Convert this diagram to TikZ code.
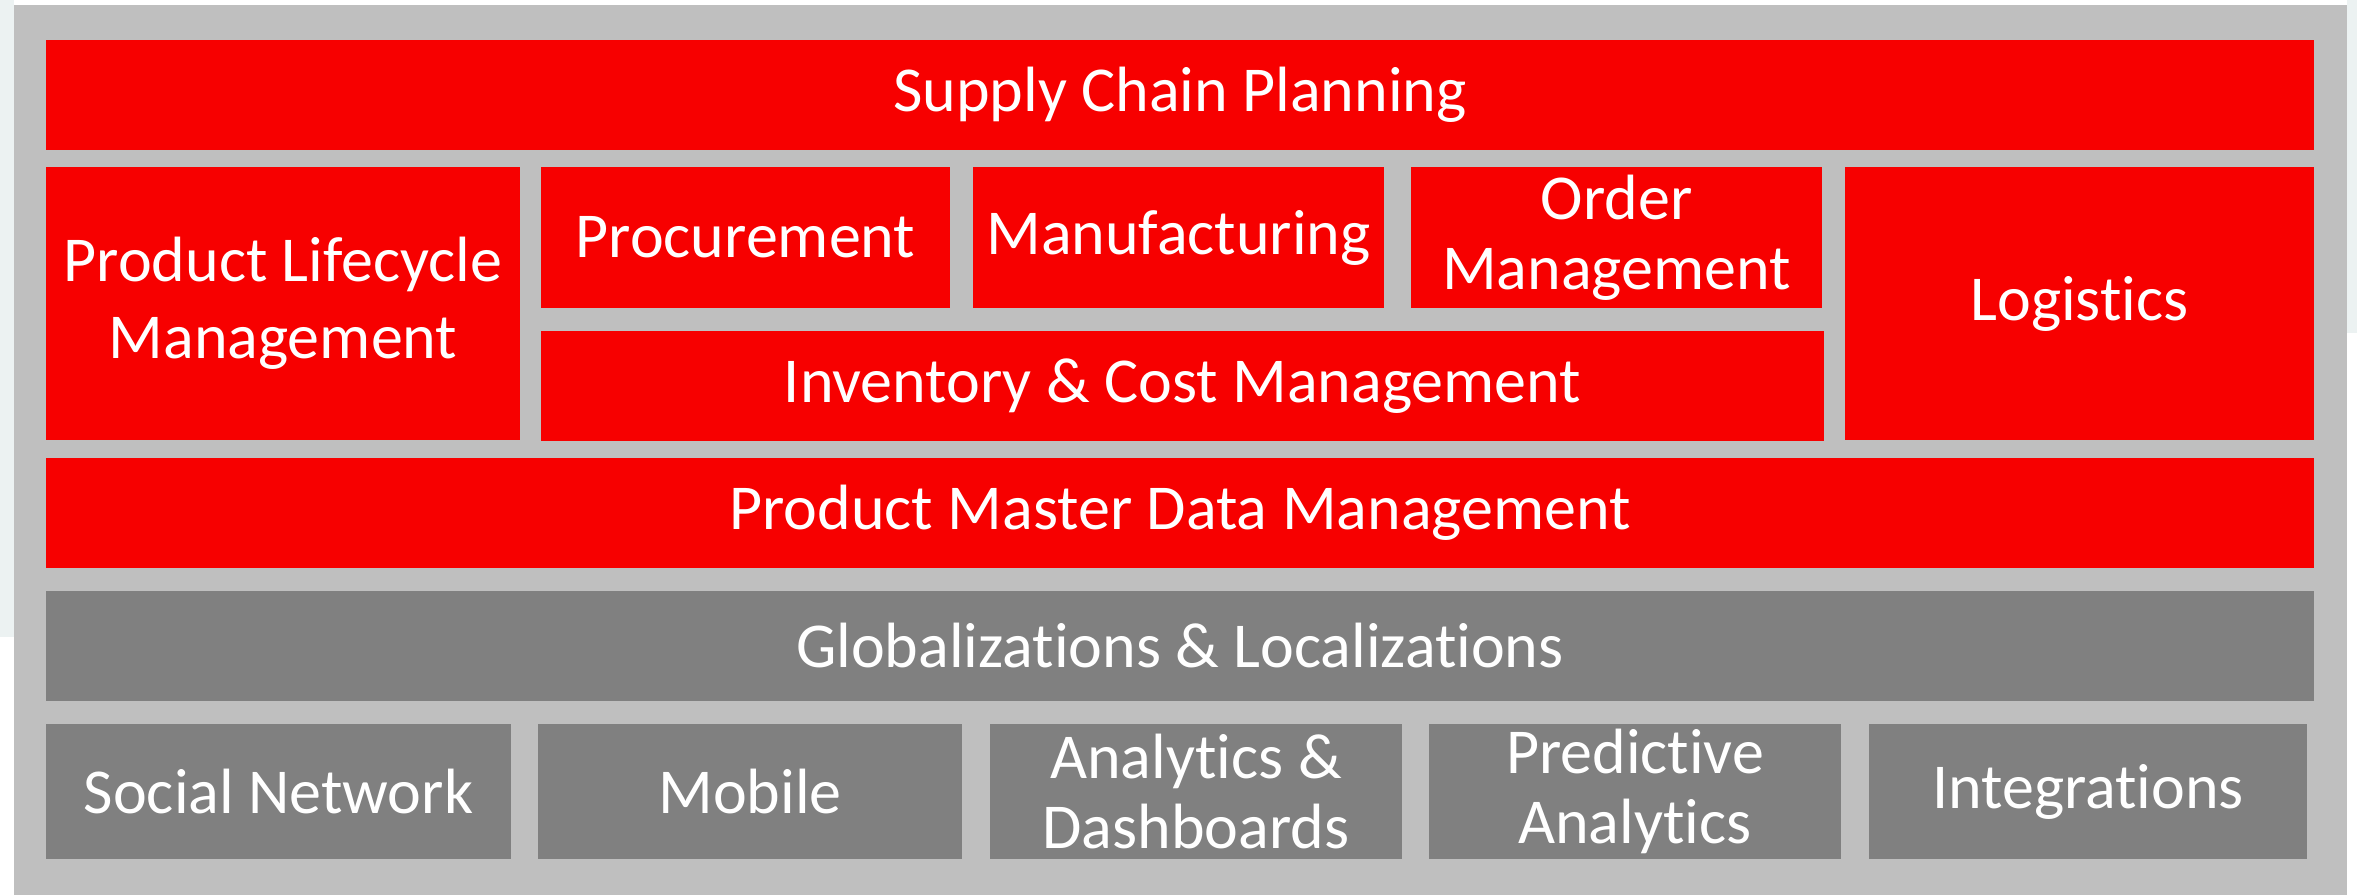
\documentclass[tikz,border=0pt]{standalone}
\usepackage{fontspec}
\setmainfont[Ligatures=NoCommon]{Carlito}
\definecolor{boxred}{RGB}{247,0,0}
\definecolor{framegray}{RGB}{191,191,191}
\definecolor{dkgray}{RGB}{128,128,128}
\definecolor{pale}{RGB}{236,242,242}
\begin{document}
\begin{tikzpicture}[x=1pt,y=-1pt,
  blk/.style={fill=boxred, text=white, inner sep=0pt, align=center,
    font=\fontsize{64}{70}\selectfont},
  gblk/.style={blk, fill=dkgray}]
\useasboundingbox (0,0) rectangle (2357,895);
\fill[white] (0,0) rectangle (2357,895);
\fill[pale] (0,0) rectangle (14,637);
\fill[pale] (2347,0) rectangle (2357,333);
\fill[framegray] (14,5) rectangle (2347,895);
% red layer
\node[blk, minimum width=2268, minimum height=110] (scp) at (1180,95) {Supply Chain Planning};
\node[blk, minimum width=474, minimum height=273, font=\fontsize{64}{77}\selectfont] (plm) at (283,303.5) {Product Lifecycle\\Management};
\node[blk, minimum width=409, minimum height=141] (proc) at (745.5,237.5) {Procurement};
\node[blk, minimum width=411, minimum height=141] (manu) at (1178.5,237.5) {Manufacturing};
\node[blk, minimum width=411, minimum height=141] (order) at (1616.5,237.5) {Order\\Management};
\node[blk, minimum width=469, minimum height=273] (logi) at (2079.5,303.5) {Logistics};
\node[blk, minimum width=1283, minimum height=110] (inv) at (1182.5,386) {Inventory \& Cost Management};
\node[blk, minimum width=2268, minimum height=110] (pmdm) at (1180,513) {Product Master Data Management};
% gray layer
\node[gblk, minimum width=2268, minimum height=110] (glob) at (1180,646) {Globalizations \& Localizations};
\node[gblk, minimum width=465, minimum height=135] (social) at (278.5,791.5) {Social Network};
\node[gblk, minimum width=424, minimum height=135] (mobile) at (750,791.5) {Mobile};
\node[gblk, minimum width=412, minimum height=135] (anal) at (1196,791.5) {Analytics \&\\Dashboards};
\node[gblk, minimum width=412, minimum height=135] (pred) at (1635,791.5) {Predictive\\Analytics};
\node[gblk, minimum width=438, minimum height=135] (integ) at (2088,791.5) {Integrations};
\end{tikzpicture}
\end{document}
